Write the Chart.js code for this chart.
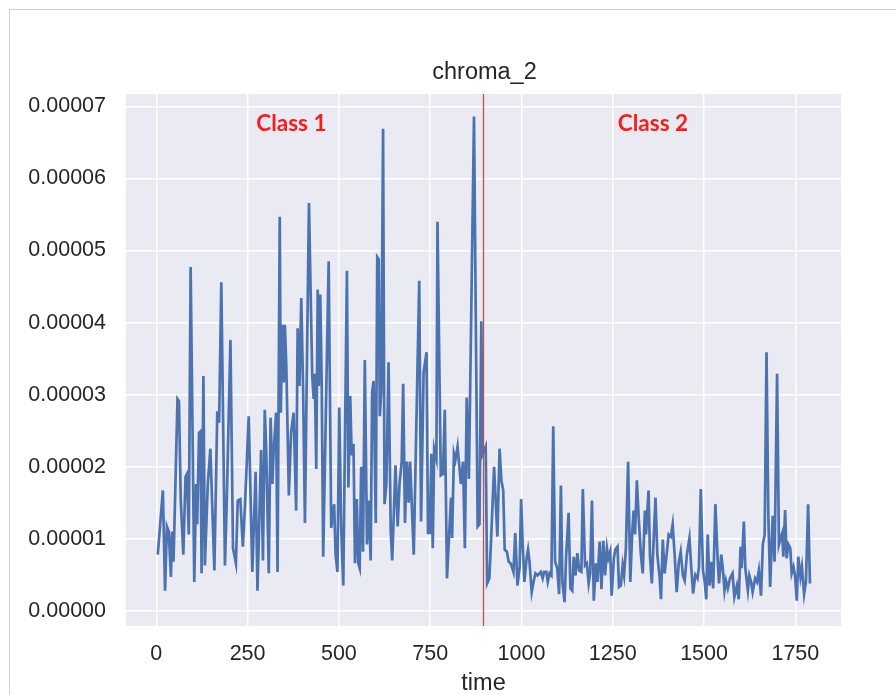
<!DOCTYPE html>
<html>
<head>
<meta charset="utf-8">
<title>chroma_2</title>
<script src="https://cdn.jsdelivr.net/npm/chart.js@4.4.1/dist/chart.umd.min.js"></script>
<style>
  html, body { margin: 0; padding: 0; background: #fff; overflow: hidden; }
  #frame { position: absolute; left: 9px; top: 9px; width: 900px; height: 700px;
           border-top: 1px solid #cfcfcf; border-left: 1px solid #cfcfcf; }
  #plot { position: absolute; left: 0; top: 0; }
</style>
</head>
<body>
<div id="frame"></div>
<canvas id="plot" width="896" height="695"></canvas>
<script>
// chroma_2 over time, values stored in units of 1e-5
const Y_UNIT = 1e-5;

const timeSteps = [
  4, 18, 24, 29, 34, 40, 43, 47, 49, 58, 62, 67, 74, 80, 84, 89, 94, 104, 109, 112,
  117, 121, 124, 129, 133, 141, 148, 159, 167, 172, 178, 188, 193, 203, 210, 218, 223, 230, 237, 243,
  253, 263, 272, 277, 287, 292, 297, 301, 308, 313, 318, 321, 328, 332, 338, 341, 345, 349, 352, 356,
  363, 369, 376, 383, 387, 392, 397, 402, 407, 418, 427, 431, 434, 438, 442, 445, 449, 453, 457, 472,
  479, 487, 491, 496, 501, 506, 512, 522, 526, 531, 535, 540, 544, 549, 553, 557, 561, 566, 571, 577,
  582, 587, 591, 595, 601, 605, 609, 612, 616, 621, 625, 630, 636, 642, 646, 655, 661, 666, 672, 676,
  681, 686, 691, 695, 705, 720, 725, 732, 740, 744, 749, 753, 757, 761, 767, 770, 779, 785, 790, 796,
  807, 810, 815, 819, 825, 834, 840, 845, 850, 856, 870, 880, 885, 890, 894, 902, 906, 912, 916, 925,
  934, 940, 945, 950, 954, 960, 965, 970, 975, 978, 983, 989, 995, 999, 1003, 1008, 1014, 1018, 1022, 1028,
  1033, 1038, 1044, 1049, 1053, 1058, 1062, 1068, 1072, 1077, 1082, 1087, 1092, 1098, 1103, 1108, 1112, 1118, 1122, 1129,
  1134, 1139, 1143, 1148, 1153, 1158, 1164, 1168, 1174, 1179, 1184, 1188, 1193, 1198, 1204, 1208, 1214, 1219, 1224, 1229,
  1234, 1238, 1243, 1247, 1253, 1257, 1263, 1267, 1272, 1277, 1281, 1286, 1292, 1298, 1303, 1307, 1311, 1316, 1321, 1327,
  1332, 1338, 1341, 1348, 1352, 1357, 1361, 1367, 1372, 1378, 1382, 1387, 1392, 1398, 1403, 1409, 1414, 1420, 1425, 1431,
  1436, 1442, 1447, 1453, 1460, 1465, 1470, 1476, 1482, 1486, 1491, 1497, 1502, 1506, 1510, 1515, 1519, 1525, 1531, 1537,
  1541, 1547, 1551, 1556, 1560, 1565, 1571, 1578, 1583, 1590, 1595, 1600, 1603, 1609, 1613, 1620, 1624, 1629, 1633, 1640,
  1645, 1650, 1656, 1661, 1666, 1671, 1676, 1681, 1688, 1693, 1700, 1705, 1710, 1714, 1717, 1722, 1726, 1731, 1736, 1740,
  1745, 1749, 1754, 1758, 1764, 1768, 1774, 1779, 1785, 1790
];

const chromaValues = [
  0.78, 1.67, 0.28, 1.17, 1.10, 0.47, 1.10, 0.68, 1.06, 2.94, 2.91, 1.53, 0.78, 1.86, 1.90, 1.06, 4.77, 0.40, 1.76, 1.20,
  2.47, 2.49, 0.52, 3.26, 0.63, 1.76, 2.25, 0.56, 2.77, 2.61, 4.56, 0.63, 1.53, 3.76, 0.87, 0.66, 1.53, 1.55, 0.89, 1.48,
  2.70, 0.54, 1.93, 0.28, 2.23, 0.70, 2.79, 2.23, 0.52, 2.68, 1.76, 2.18, 2.75, 0.54, 5.47, 2.75, 3.97, 3.17, 3.97, 3.40,
  1.60, 2.47, 2.75, 1.39, 3.92, 3.12, 4.34, 3.08, 1.22, 5.66, 3.26, 2.94, 3.29, 1.97, 4.46, 3.12, 4.39, 3.12, 0.75, 4.85,
  1.15, 1.48, 0.78, 0.54, 2.82, 1.20, 0.35, 4.72, 1.71, 2.98, 2.16, 2.32, 0.66, 1.55, 0.66, 0.59, 2.00, 0.82, 3.48, 0.92,
  1.53, 0.70, 3.03, 3.19, 1.22, 4.91, 4.88, 2.70, 3.03, 6.69, 1.48, 1.76, 3.45, 1.10, 0.70, 2.02, 1.17, 1.76, 2.07, 3.15,
  1.22, 2.07, 1.50, 2.07, 0.78, 4.58, 1.24, 3.31, 3.59, 1.08, 1.08, 2.18, 0.87, 2.25, 2.11, 5.40, 1.88, 1.90, 2.79, 0.45,
  1.57, 1.01, 2.18, 2.09, 2.28, 1.76, 2.07, 0.87, 2.96, 1.83, 6.86, 1.17, 1.20, 4.02, 2.18, 2.28, 0.38, 0.45, 0.89, 2.00,
  1.03, 2.25, 1.81, 1.67, 0.85, 0.82, 0.68, 0.66, 0.59, 0.54, 1.08, 0.35, 0.61, 1.55, 0.96, 0.40, 0.73, 0.85, 0.68, 0.26,
  0.40, 0.52, 0.49, 0.52, 0.54, 0.45, 0.54, 0.54, 0.40, 0.52, 0.49, 2.56, 0.68, 0.59, 0.23, 1.74, 0.40, 0.12, 0.73, 1.36,
  0.31, 0.28, 0.75, 0.49, 0.80, 0.56, 0.54, 1.69, 0.63, 0.66, 0.38, 0.52, 1.53, 0.14, 0.66, 0.40, 0.96, 0.30, 0.97, 0.49,
  0.87, 0.73, 0.82, 0.21, 0.73, 0.85, 0.89, 0.33, 0.35, 0.63, 0.49, 0.87, 2.07, 0.40, 1.06, 1.39, 1.06, 1.81, 1.29, 0.78,
  0.52, 1.39, 1.06, 1.67, 0.75, 0.38, 0.87, 1.57, 0.78, 0.49, 0.16, 0.99, 0.52, 0.80, 1.06, 1.03, 1.20, 0.73, 0.26, 0.68,
  0.82, 0.49, 0.42, 0.78, 1.01, 0.60, 0.24, 0.50, 0.45, 0.61, 1.69, 0.56, 0.40, 0.16, 1.06, 0.35, 0.68, 0.31, 1.48, 0.73,
  0.38, 0.78, 0.61, 0.28, 0.42, 0.31, 0.45, 0.52, 0.19, 0.35, 0.16, 0.89, 0.59, 1.24, 0.59, 0.28, 0.49, 0.40, 0.26, 0.45,
  0.40, 0.56, 0.21, 0.92, 1.06, 3.59, 1.32, 0.33, 1.32, 0.68, 3.29, 0.92, 1.02, 1.08, 0.75, 1.40, 0.73, 0.92, 0.87, 0.52,
  0.61, 0.49, 0.14, 0.75, 0.47, 0.61, 0.23, 0.40, 1.48, 0.38
];

const xTicks = [0, 250, 500, 750, 1000, 1250, 1500, 1750];
const yTicks = [0, 1, 2, 3, 4, 5, 6, 7];

// boundary between the two classes
const classSplit = 895;
const classLabels = ["Class 1", "Class 2"];
const classLabelX = [370, 1360];
const classLabelY = 6.76;

const TEXT = "#262626";
const SANS = "'Liberation Sans', Arial, sans-serif";
const TICK_FONT = { family: SANS, size: 21.5 };

const points = timeSteps.map((t, i) => ({ x: t, y: chromaValues[i] * Y_UNIT }));

// grey panel behind the axes, red split line and class captions on top
const decor = {
  id: "decor",
  beforeDraw(chart) {
    const { ctx, chartArea: a } = chart;
    ctx.save();
    ctx.fillStyle = "#EAEAF2";
    ctx.fillRect(a.left, a.top, a.right - a.left, a.bottom - a.top);
    ctx.restore();
  },
  afterDatasetsDraw(chart) {
    const { ctx, chartArea: a, scales } = chart;
    const sx = Math.round(scales.x.getPixelForValue(classSplit)) + 0.5;
    ctx.save();
    ctx.strokeStyle = "#C44E52";
    ctx.lineWidth = 1.3;
    ctx.beginPath();
    ctx.moveTo(sx, a.top);
    ctx.lineTo(sx, a.bottom);
    ctx.stroke();

    ctx.fillStyle = "#FF1A1A";
    ctx.font = "bold 22.5px Lato, 'Open Sans', sans-serif";
    ctx.textAlign = "center";
    ctx.textBaseline = "middle";
    classLabels.forEach((txt, i) => {
      ctx.fillText(txt, scales.x.getPixelForValue(classLabelX[i]),
                   scales.y.getPixelForValue(classLabelY * Y_UNIT));
    });

    // plot title
    ctx.fillStyle = TEXT;
    ctx.font = "23.5px " + SANS;
    ctx.textBaseline = "alphabetic";
    ctx.fillText("chroma_2", (a.left + a.right) / 2 + 1, 79);
    ctx.restore();
  }
};

new Chart(document.getElementById("plot"), {
  type: "line",
  data: {
    datasets: [{
      data: points,
      borderColor: "#4C72B0",
      borderWidth: 2.7,
      pointRadius: 0,
      tension: 0,
      fill: false
    }]
  },
  options: {
    responsive: false,
    animation: false,
    devicePixelRatio: 1,
    layout: { padding: { left: 0, right: 55, top: 94, bottom: 0 } },
    plugins: { legend: { display: false }, tooltip: { enabled: false }, title: { display: false } },
    scales: {
      x: {
        type: "linear",
        min: -83,
        max: 1875,
        afterBuildTicks: s => { s.ticks = xTicks.map(v => ({ value: v })); },
        afterFit: s => { s.height = 69; },
        grid: { color: "#FFFFFF", lineWidth: 1.5, drawTicks: false },
        border: { display: false },
        ticks: { color: TEXT, font: TICK_FONT, padding: 15, maxRotation: 0, callback: v => String(v) },
        title: {
          display: true, text: "time", color: TEXT,
          font: { family: SANS, size: 23.5, lineHeight: 1 },
          padding: { top: 0, bottom: 0 }
        }
      },
      y: {
        type: "linear",
        min: -0.211 * Y_UNIT,
        max: 7.173 * Y_UNIT,
        afterBuildTicks: s => { s.ticks = yTicks.map(v => ({ value: v * Y_UNIT })); },
        afterFit: s => { s.width = 126; },
        grid: { color: "#FFFFFF", lineWidth: 1.5, drawTicks: false },
        border: { display: false },
        ticks: {
          color: TEXT, font: TICK_FONT, padding: 20,
          callback: v => v.toFixed(5)
        }
      }
    }
  },
  plugins: [decor]
});
</script>
</body>
</html>
